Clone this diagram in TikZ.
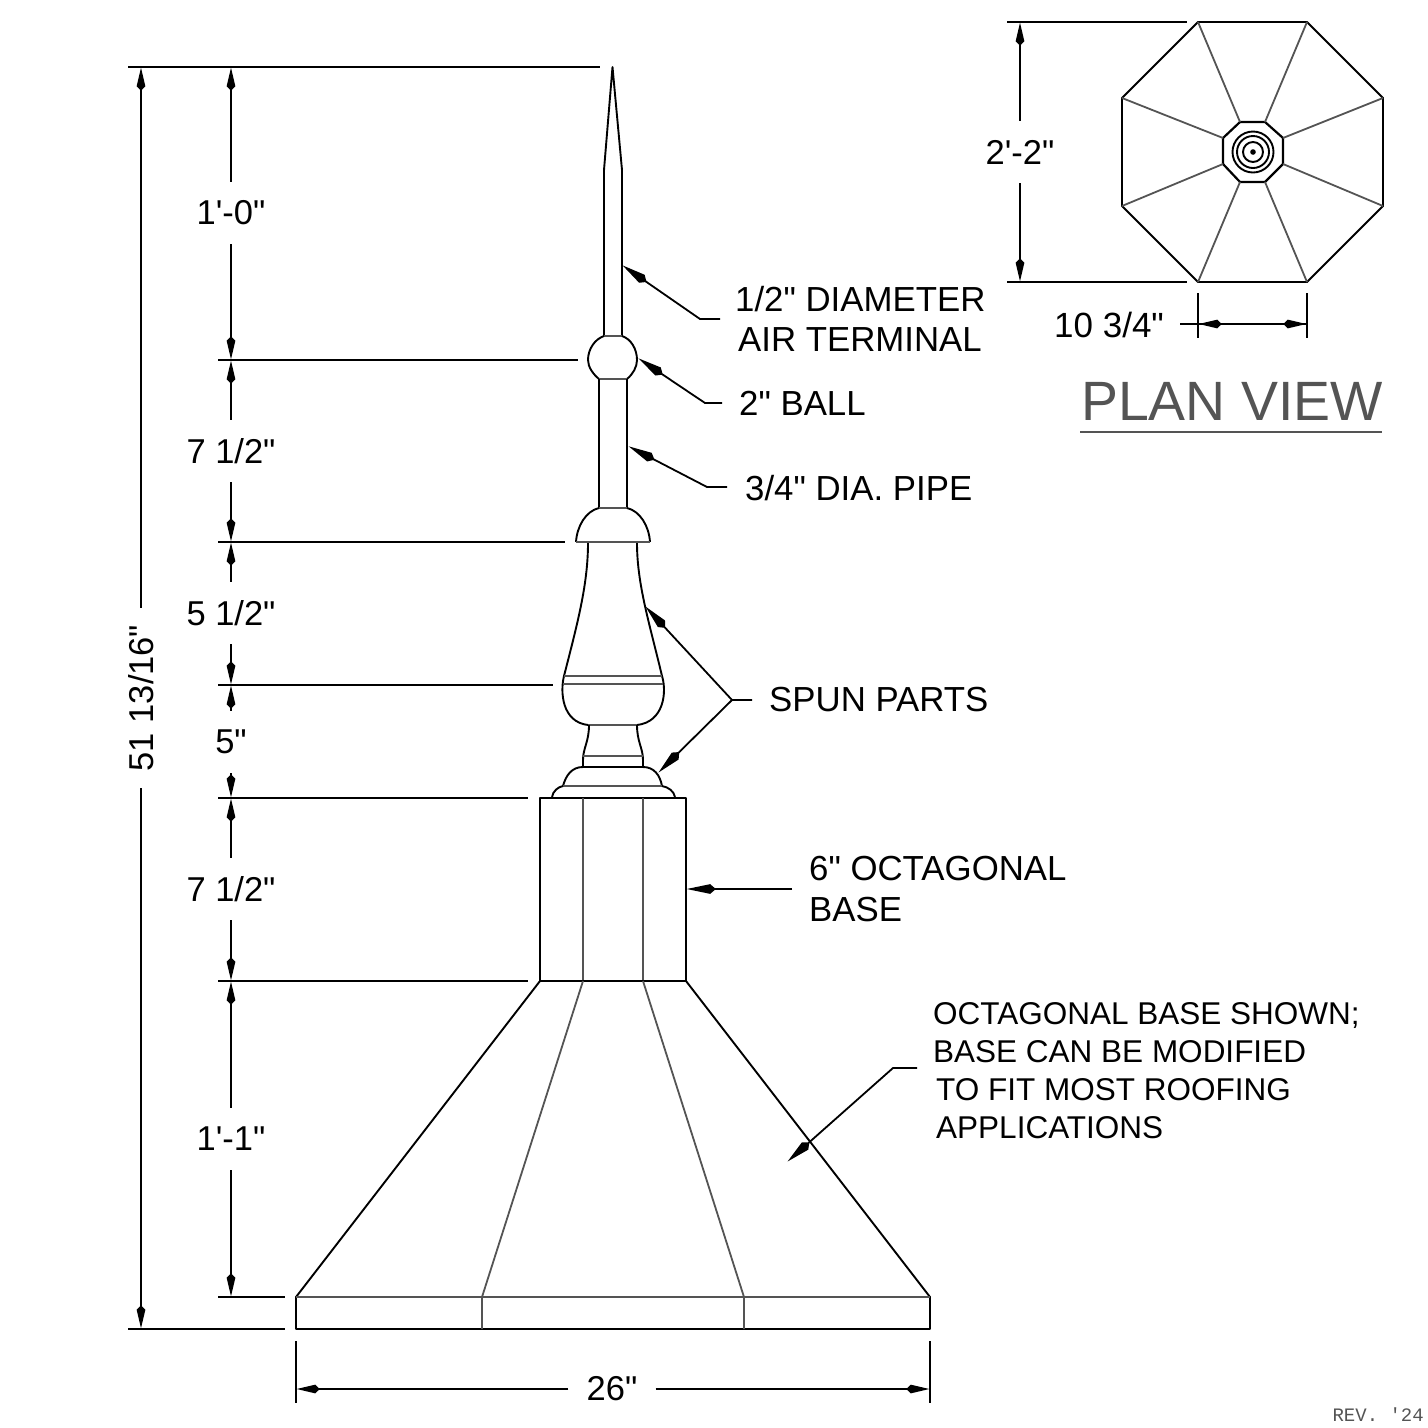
\documentclass[tikz,border=0pt]{standalone}
\usepackage{fontspec}
\newfontfamily\dwgfont{Liberation Sans}
\newfontfamily\revfont{Liberation Mono}
\usetikzlibrary{arrows.meta, positioning}
\definecolor{seam}{gray}{0.33}
\tikzstyle{part} = [line width=1.9pt, black, line join=round]
\tikzstyle{seamline} = [line width=1.8pt, seam]
\tikzstyle{ext} = [line width=1.8pt, black]
\tikzstyle{dim} = [line width=1.8pt, black, -{Stealth[length=19pt,width=7.5pt,inset=-5pt]}]
\tikzstyle{leader} = [line width=1.8pt, black, -{Stealth[length=24pt,width=8.5pt,inset=-6pt]}]
\tikzstyle{dimtext} = [font=\dwgfont\fontsize{34.5}{34.5}\selectfont, inner sep=0pt, minimum height=62pt, minimum width=40pt]
\tikzstyle{label} = [font=\dwgfont\fontsize{34.8}{34.8}\selectfont, inner sep=0pt, anchor=west]
\tikzstyle{note} = [font=\dwgfont\fontsize{31.5}{31.5}\selectfont, inner sep=0pt, anchor=west, text depth=0pt]

\begin{document}
\begin{tikzpicture}[x=1pt, y=-1pt]
\useasboundingbox (0,0) rectangle (1428,1428);

%% spire, top to bottom
\draw [part] (604,336) -- (604,170) -- (612.5,67) -- (622,170) -- (622,336);
\draw [seamline] (604,336) -- (622,336);
\draw [part] (604,336) .. controls (595,339) and (588,349) .. (588,360) .. controls (588,367) and (593,374) .. (599,379);
\draw [part] (622,336) .. controls (631,339) and (637,349) .. (637,360) .. controls (637,367) and (633,374) .. (627,379);
\draw [seamline] (599,379) -- (627,379);
\draw [part] (599,379) -- (599,508);
\draw [part] (627,379) -- (627,508);
\draw [seamline] (599,508) -- (627,508);
\draw [part] (599,508) .. controls (586,511) and (577,526) .. (576,542);
\draw [part] (627,508) .. controls (640,511) and (649,526) .. (650,542);
\draw [seamline] (576,542) -- (650,542);

%% spun parts
\draw [part] (588,543) .. controls (588,585) and (577,625) .. (564,676) .. controls (560,692) and (562,722) .. (588,725);
\draw [part] (637,543) .. controls (637,585) and (650,625) .. (662,676) .. controls (667,692) and (664,722) .. (637,725);
\draw [seamline] (564,676) -- (662,676);
\draw [seamline] (563,684) -- (663,684);
\draw [seamline] (588,725) -- (637,725);
\draw [part] (589,725) .. controls (589,742) and (583,748) .. (583,760) -- (583,767);
\draw [part] (637,725) .. controls (637,742) and (643,748) .. (643,760) -- (643,767);
\draw [seamline] (583,756) -- (643,756);
\draw [part] (563,786) .. controls (566,775) and (572,767) .. (583,767) -- (643,767) .. controls (654,767) and (660,775) .. (662,786);
\draw [seamline] (563,786) -- (662,786);
\draw [part] (552,797) .. controls (553,791) and (558,787) .. (563,786);
\draw [part] (675,797) .. controls (674,791) and (668,787) .. (662,786);

%% octagonal base
\draw [part] (540,981) -- (540,798) -- (686,798) -- (686,981);
\draw [seamline] (583,798) -- (583,981);
\draw [seamline] (643,798) -- (643,981);
\draw [part] (540,981) -- (686,981);
\draw [part] (540,981) -- (296,1297) -- (296,1329) -- (930,1329) -- (930,1297) -- (686,981);
\draw [seamline] (583,981) -- (482,1297) -- (482,1329);
\draw [seamline] (643,981) -- (744,1297) -- (744,1329);
\draw [seamline] (296,1297) -- (930,1297);

%% extension lines
\draw [ext] (128,67) -- (600,67);
\draw [ext] (218,360) -- (578,360);
\draw [ext] (218,542) -- (565,542);
\draw [ext] (218,685) -- (553,685);
\draw [ext] (218,798) -- (528,798);
\draw [ext] (218,981) -- (528,981);
\draw [ext] (218,1297) -- (285,1297);
\draw [ext] (128,1329) -- (285,1329);
\draw [ext] (296,1341) -- (296,1403);
\draw [ext] (930,1341) -- (930,1403);

%% height dimensions
\coordinate (lv1) at (231,67);
\coordinate (lv2) at (231,360);
\coordinate (lv3) at (231,542);
\coordinate (lv4) at (231,685);
\coordinate (lv5) at (231,798);
\coordinate (lv6) at (231,981);
\coordinate (lv7) at (231,1297);
\node (dimterm) [dimtext] at (231,213) {1'-0"};
\node (dimpipe) [dimtext] at (231,451) {7 1/2"};
\node (dimvase) [dimtext] at (231,613) {5 1/2"};
\node (dimneck) [dimtext] at (231,742) {5"};
\node (dimbase) [dimtext] at (231,889) {7 1/2"};
\node (dimflare) [dimtext] at (231,1139) {1'-1"};
\draw [dim] (dimterm) -- (lv1);
\draw [dim] (dimterm) -- (lv2);
\draw [dim] (dimpipe) -- (lv2);
\draw [dim] (dimpipe) -- (lv3);
\draw [dim] (dimvase) -- (lv3);
\draw [dim] (dimvase) -- (lv4);
\draw [dim] (dimneck) -- (lv4);
\draw [dim] (dimneck) -- (lv5);
\draw [dim] (dimbase) -- (lv5);
\draw [dim] (dimbase) -- (lv6);
\draw [dim] (dimflare) -- (lv6);
\draw [dim] (dimflare) -- (lv7);

%% overall height and width
\coordinate (tot1) at (141,67);
\coordinate (tot2) at (141,1329);
\node (dimtotal) [dimtext, rotate=90, inner xsep=17pt, minimum height=30pt] at (141,698) {51 13/16"};
\draw [dim] (dimtotal) -- (tot1);
\draw [dim] (dimtotal) -- (tot2);
\coordinate (wid1) at (296,1389);
\coordinate (wid2) at (930,1389);
\node (dimwidth) [dimtext, inner xsep=18pt, minimum height=30pt] at (612,1389) {26"};
\draw [dim] (dimwidth) -- (wid1);
\draw [dim] (dimwidth) -- (wid2);

%% leaders
\node (airtext) [label] at (735,299) {1/2" DIAMETER};
\node (airtext2) [label] at (738,340) {AIR TERMINAL};
\node (balltext) [label] at (739,403) {2" BALL};
\node (pipetext) [label] at (745,488) {3/4" DIA. PIPE};
\node (spuntext) [label] at (769,700) {SPUN PARTS};
\node (basetext) [label] at (809,869) {6" OCTAGONAL};
\node (basetext2) [label] at (809,910) {BASE};
\coordinate (airend) at (720,319);
\coordinate (airelb) at (700,319);
\coordinate (airtip) at (622,265);
\coordinate (ballend) at (722,403);
\coordinate (ballelb) at (705,403);
\coordinate (balltip) at (638,358);
\coordinate (pipeend) at (727,487);
\coordinate (pipeelb) at (707,487);
\coordinate (pipetip) at (628,446);
\coordinate (spunend) at (752,700);
\coordinate (spunelb) at (732,700);
\coordinate (spuntip1) at (645,606);
\coordinate (spuntip2) at (658,773);
\coordinate (baseend) at (792,889);
\coordinate (basetip) at (686,889);
\coordinate (noteend) at (917,1068);
\coordinate (noteelb) at (893,1068);
\coordinate (notetip) at (787,1162);
\draw [leader] (airend) -- (airelb) -- (airtip);
\draw [leader] (ballend) -- (ballelb) -- (balltip);
\draw [leader] (pipeend) -- (pipeelb) -- (pipetip);
\draw [leader] (spunend) -- (spunelb) -- (spuntip1);
\draw [leader] (spunelb) -- (spuntip2);
\draw [leader] (baseend) -- (basetip);
\draw [leader] (noteend) -- (noteelb) -- (notetip);

%% note
\node (note1) [note] at (933,1013) {OCTAGONAL BASE SHOWN;};
\node (note2) [note] at (933,1051) {BASE CAN BE MODIFIED};
\node (note3) [note] at (936,1089) {TO FIT MOST ROOFING};
\node (note4) [note] at (936,1127) {APPLICATIONS};

%% plan view
\draw [part] (1198,22) -- (1307,22) -- (1383,98) -- (1383,206) -- (1307,282) -- (1198,282) -- (1122,206) -- (1122,98) -- cycle;
\draw [part, line width=2.2pt] (1240,122) -- (1265,122) -- (1283,138) -- (1283,164) -- (1265,182) -- (1240,182) -- (1223,164) -- (1223,138) -- cycle;
\draw [seamline] (1198,22) -- (1240,122);
\draw [seamline] (1307,22) -- (1265,122);
\draw [seamline] (1383,98) -- (1283,138);
\draw [seamline] (1383,206) -- (1283,164);
\draw [seamline] (1307,282) -- (1265,182);
\draw [seamline] (1198,282) -- (1240,182);
\draw [seamline] (1122,206) -- (1223,164);
\draw [seamline] (1122,98) -- (1223,138);
\foreach \rad in {20.5,16,10}
  \draw [part] (1253,152) circle (\rad);
\fill (1253,152) circle (2.8);

%% plan dimensions
\draw [ext] (1007,22) -- (1187,22);
\draw [ext] (1007,282) -- (1187,282);
\draw [ext] (1198,293) -- (1198,338);
\draw [ext] (1307,293) -- (1307,338);
\coordinate (pl1) at (1020,22);
\coordinate (pl2) at (1020,282);
\node (dimplan) [dimtext] at (1020,152) {2'-2"};
\draw [dim] (dimplan) -- (pl1);
\draw [dim] (dimplan) -- (pl2);
\coordinate (fl0) at (1180,324);
\coordinate (fl1) at (1198,324);
\coordinate (fl2) at (1307,324);
\node (dimflat) [label, font=\dwgfont\fontsize{35}{35}\selectfont] at (1054,325) {10 3/4"};
\draw [dim] (fl0) -- (fl2);
\draw [dim] (fl2) -- (fl1);

\node (plantitle) [font=\dwgfont\fontsize{55.4}{55.4}\selectfont, text=seam, inner sep=0pt] at (1232,401) {PLAN VIEW};
\draw [seamline] (1080,432) -- (1382,432);

\node (revtext) [font=\revfont\fontsize{19}{19}\selectfont, text=seam, inner sep=0pt, anchor=east] at (1424,1415) {REV. '24};

\end{tikzpicture}
\end{document}
